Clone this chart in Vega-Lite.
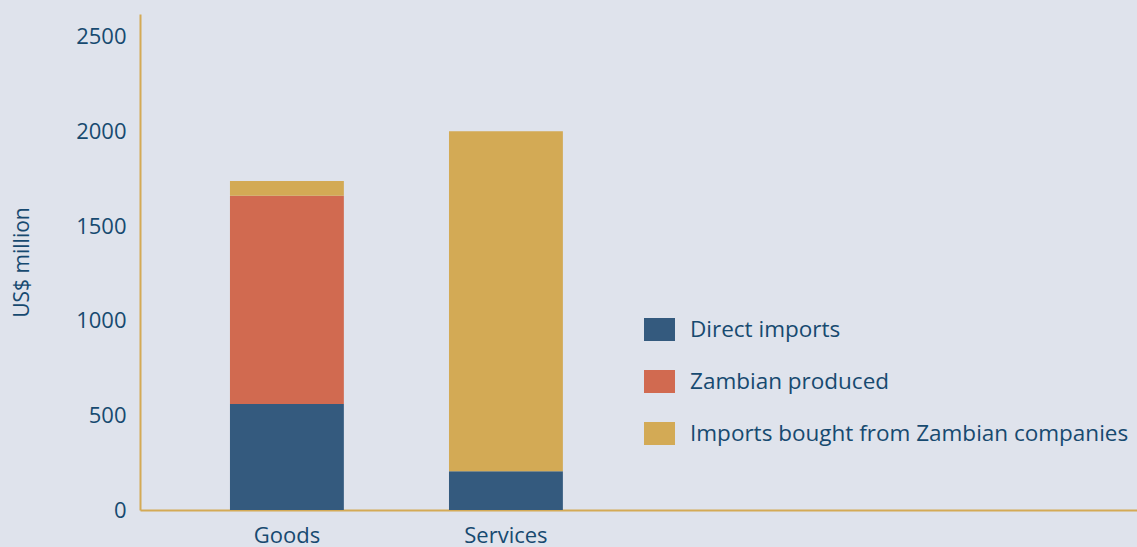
{
  "$schema": "https://vega.github.io/schema/vega-lite/v6.json",
  "width": 997,
  "height": 496,
  "autosize": "none",
  "padding": {"left": 140, "top": 14, "right": 0, "bottom": 37},
  "background": "#dfe3ec",
  "config": {
    "view": {"stroke": null},
    "font": "Open Sans",
    "axis": {"labelColor": "#174a70", "titleColor": "#174a70", "labelFont": "Open Sans", "titleFont": "Open Sans"}
  },
  "data": {
    "values": [
      {"category": "Goods", "type": "Direct imports", "k": 1, "value": 560},
      {"category": "Goods", "type": "Zambian produced", "k": 2, "value": 1100},
      {"category": "Goods", "type": "Imports bought from Zambian companies", "k": 3, "value": 78},
      {"category": "Services", "type": "Direct imports", "k": 1, "value": 205},
      {"category": "Services", "type": "Zambian produced", "k": 2, "value": 0},
      {"category": "Services", "type": "Imports bought from Zambian companies", "k": 3, "value": 1795}
    ]
  },
  "mark": {"type": "bar"},
  "encoding": {
    "x": {
      "field": "category",
      "type": "nominal",
      "scale": {"domain": ["Goods", "Services", "_a", "_b"], "paddingInner": 0.48, "paddingOuter": 0.516, "align": 0.398},
      "axis": {
        "title": null,
        "labelAngle": 0,
        "ticks": false,
        "domainColor": "#d4aa55",
        "domainWidth": 2,
        "labelFontSize": 22,
        "labelPadding": 15,
        "labelBaseline": "top",
        "labelExpr": "datum.value == 'Goods' || datum.value == 'Services' ? datum.value : ''"
      }
    },
    "y": {
      "field": "value",
      "type": "quantitative",
      "stack": "zero",
      "scale": {"domain": [0, 2620], "nice": false},
      "axis": {
        "title": "US$ million",
        "values": [0, 500, 1000, 1500, 2000, 2500],
        "format": "d",
        "grid": false,
        "ticks": false,
        "domainColor": "#d4aa55",
        "domainWidth": 2,
        "labelFontSize": 22,
        "labelPadding": 14,
        "titleFontSize": 21,
        "titleFontWeight": "normal",
        "titlePadding": 43
      }
    },
    "order": {"field": "k", "type": "quantitative"},
    "color": {
      "field": "type",
      "type": "nominal",
      "scale": {
        "domain": ["Direct imports", "Zambian produced", "Imports bought from Zambian companies"],
        "range": ["#345a7e", "#d16a50", "#d3aa55"]
      },
      "legend": {
        "title": null,
        "orient": "none",
        "legendX": 504,
        "legendY": 300,
        "padding": 0,
        "symbolType": "M-1,-0.742L1,-0.742L1,0.742L-1,0.742Z",
        "symbolSize": 961,
        "symbolStrokeWidth": 0,
        "labelFontSize": 22.5,
        "labelColor": "#174a70",
        "labelFont": "Open Sans",
        "labelOffset": 15,
        "rowPadding": 24,
        "labelLimit": 600
      }
    }
  }
}
